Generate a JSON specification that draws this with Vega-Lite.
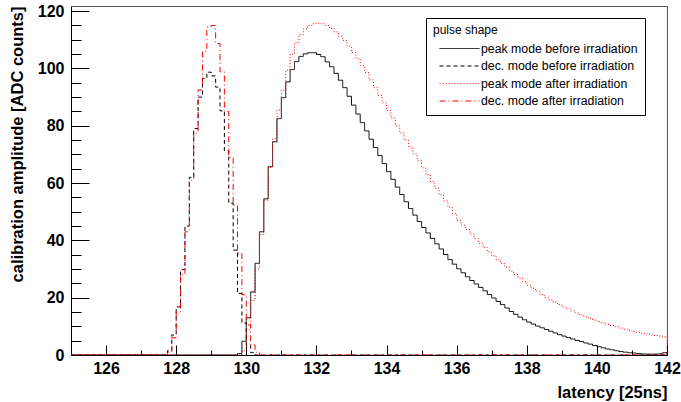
{
"$schema":"https://vega.github.io/schema/vega-lite/v6.json",
"width":596,"height":349,
"autosize":{"type":"none"},
"padding":{"left":71,"top":6,"right":14,"bottom":47},
"background":"white",
"config":{"view":{"stroke":"#555","strokeWidth":1},"font":"Liberation Sans"},
"data":{"values":[
{"x":125,"pb":0,"db":0,"pa":0,"da":0},
{"x":127.75,"pb":0,"db":1.5,"pa":0,"da":1},
{"x":127.875,"pb":0,"db":7,"pa":0,"da":6},
{"x":128,"pb":0,"db":16.8,"pa":0,"da":15},
{"x":128.125,"pb":0,"db":29.8,"pa":0,"da":28},
{"x":128.25,"pb":0,"db":45,"pa":0,"da":43},
{"x":128.375,"pb":0,"db":62,"pa":0,"da":61},
{"x":128.5,"pb":0,"db":79,"pa":0,"da":77.5},
{"x":128.625,"pb":0,"db":90,"pa":0,"da":92.5},
{"x":128.75,"pb":0,"db":96.5,"pa":0,"da":106},
{"x":128.875,"pb":0,"db":98.7,"pa":0,"da":114.5},
{"x":129,"pb":0,"db":97.4,"pa":0,"da":115},
{"x":129.125,"pb":0,"db":93.5,"pa":0,"da":108.7},
{"x":129.25,"pb":0,"db":85.2,"pa":0,"da":98.8},
{"x":129.375,"pb":0,"db":71.3,"pa":0,"da":85},
{"x":129.5,"pb":0,"db":53,"pa":0,"da":69},
{"x":129.625,"pb":0,"db":36.6,"pa":0,"da":52.3},
{"x":129.75,"pb":0.5,"db":21.5,"pa":0,"da":35.6},
{"x":129.875,"pb":4.8,"db":11.2,"pa":1.5,"da":21},
{"x":130,"pb":13,"db":3.4,"pa":9,"da":10.5},
{"x":130.125,"pb":22,"db":0.8,"pa":19,"da":3.5},
{"x":130.25,"pb":32,"db":0,"pa":30,"da":1},
{"x":130.375,"pb":43,"db":0,"pa":42,"da":0},
{"x":130.5,"pb":54.5,"db":0,"pa":54,"da":0},
{"x":130.625,"pb":65.7,"db":0,"pa":65.5,"da":0},
{"x":130.75,"pb":74.4,"db":0,"pa":75.5,"da":0},
{"x":130.875,"pb":82.5,"db":0,"pa":85.5,"da":0},
{"x":131,"pb":89.8,"db":0,"pa":92.4,"da":0},
{"x":131.125,"pb":95.3,"db":0,"pa":99.4,"da":0},
{"x":131.25,"pb":99.6,"db":0,"pa":105,"da":0},
{"x":131.375,"pb":102.4,"db":0,"pa":109,"da":0},
{"x":131.5,"pb":104.2,"db":0,"pa":111.8,"da":0},
{"x":131.625,"pb":105.1,"db":0,"pa":113.8,"da":0},
{"x":131.75,"pb":105.5,"db":0,"pa":115,"da":0},
{"x":131.875,"pb":105.5,"db":0,"pa":115.6,"da":0},
{"x":132,"pb":104.9,"db":0,"pa":115.8,"da":0},
{"x":132.125,"pb":104.1,"db":0,"pa":115.6,"da":0},
{"x":132.25,"pb":102.3,"db":0,"pa":115,"da":0},
{"x":132.375,"pb":100.6,"db":0,"pa":114,"da":0},
{"x":132.5,"pb":98.3,"db":0,"pa":112.8,"da":0},
{"x":132.625,"pb":95.9,"db":0,"pa":111.3,"da":0},
{"x":132.75,"pb":93.3,"db":0,"pa":109.8,"da":0},
{"x":132.875,"pb":90.3,"db":0,"pa":107.8,"da":0},
{"x":133,"pb":87.2,"db":0,"pa":105.6,"da":0},
{"x":133.125,"pb":84.1,"db":0,"pa":103.4,"da":0},
{"x":133.25,"pb":81.1,"db":0,"pa":101,"da":0},
{"x":133.375,"pb":78.2,"db":0,"pa":98.6,"da":0},
{"x":133.5,"pb":75.3,"db":0,"pa":96,"da":0},
{"x":133.625,"pb":72.4,"db":0,"pa":93.3,"da":0},
{"x":133.75,"pb":69.6,"db":0,"pa":90.6,"da":0},
{"x":133.875,"pb":66.8,"db":0,"pa":88,"da":0},
{"x":134,"pb":64,"db":0,"pa":85.3,"da":0},
{"x":134.125,"pb":61.3,"db":0,"pa":82.7,"da":0},
{"x":134.25,"pb":58.6,"db":0,"pa":80,"da":0},
{"x":134.375,"pb":56,"db":0,"pa":77.5,"da":0},
{"x":134.5,"pb":53.5,"db":0,"pa":75,"da":0},
{"x":134.625,"pb":51.1,"db":0,"pa":72.6,"da":0},
{"x":134.75,"pb":48.8,"db":0,"pa":70.2,"da":0},
{"x":134.875,"pb":46.6,"db":0,"pa":67.8,"da":0},
{"x":135,"pb":44.5,"db":0,"pa":65.3,"da":0},
{"x":135.125,"pb":42.6,"db":0,"pa":62.9,"da":0},
{"x":135.25,"pb":40.7,"db":0,"pa":60.5,"da":0},
{"x":135.375,"pb":38.8,"db":0,"pa":58.2,"da":0},
{"x":135.5,"pb":37,"db":0,"pa":55.9,"da":0},
{"x":135.625,"pb":35.1,"db":0,"pa":53.8,"da":0},
{"x":135.75,"pb":33.3,"db":0,"pa":51.6,"da":0},
{"x":135.875,"pb":31.7,"db":0,"pa":49.4,"da":0},
{"x":136,"pb":30.1,"db":0,"pa":47,"da":0},
{"x":136.125,"pb":28.7,"db":0,"pa":45.3,"da":0},
{"x":136.25,"pb":27.3,"db":0,"pa":43.8,"da":0},
{"x":136.375,"pb":26,"db":0,"pa":42.2,"da":0},
{"x":136.5,"pb":24.8,"db":0,"pa":40.6,"da":0},
{"x":136.625,"pb":23.6,"db":0,"pa":39,"da":0},
{"x":136.75,"pb":22.4,"db":0,"pa":37.5,"da":0},
{"x":136.875,"pb":21.1,"db":0,"pa":36,"da":0},
{"x":137,"pb":19.9,"db":0,"pa":34.6,"da":0},
{"x":137.125,"pb":18.7,"db":0,"pa":33.2,"da":0},
{"x":137.25,"pb":17.6,"db":0,"pa":31.9,"da":0},
{"x":137.375,"pb":16.4,"db":0,"pa":30.6,"da":0},
{"x":137.5,"pb":15.2,"db":0,"pa":29.3,"da":0},
{"x":137.625,"pb":14.2,"db":0,"pa":28.1,"da":0},
{"x":137.75,"pb":13.2,"db":0,"pa":26.9,"da":0},
{"x":137.875,"pb":12.3,"db":0,"pa":25.6,"da":0},
{"x":138,"pb":11.5,"db":0,"pa":24.3,"da":0},
{"x":138.125,"pb":10.8,"db":0,"pa":23.3,"da":0},
{"x":138.25,"pb":10.1,"db":0,"pa":22.3,"da":0},
{"x":138.375,"pb":9.5,"db":0,"pa":21.1,"da":0},
{"x":138.5,"pb":8.9,"db":0,"pa":20,"da":0},
{"x":138.625,"pb":8.3,"db":0,"pa":19.2,"da":0},
{"x":138.75,"pb":7.7,"db":0,"pa":18.4,"da":0},
{"x":138.875,"pb":7.1,"db":0,"pa":17.6,"da":0},
{"x":139,"pb":6.6,"db":0,"pa":16.8,"da":0},
{"x":139.125,"pb":6.1,"db":0,"pa":16.1,"da":0},
{"x":139.25,"pb":5.6,"db":0,"pa":15.4,"da":0},
{"x":139.375,"pb":5.1,"db":0,"pa":14.7,"da":0},
{"x":139.5,"pb":4.7,"db":0,"pa":14,"da":0},
{"x":139.625,"pb":4.2,"db":0,"pa":13.4,"da":0},
{"x":139.75,"pb":3.8,"db":0,"pa":12.8,"da":0},
{"x":139.875,"pb":3.3,"db":0,"pa":12.2,"da":0},
{"x":140,"pb":2.9,"db":0,"pa":11.7,"da":0},
{"x":140.125,"pb":2.5,"db":0,"pa":11.2,"da":0},
{"x":140.25,"pb":2.1,"db":0,"pa":10.7,"da":0},
{"x":140.375,"pb":1.8,"db":0,"pa":10.3,"da":0},
{"x":140.5,"pb":1.5,"db":0,"pa":9.9,"da":0},
{"x":140.625,"pb":1.2,"db":0,"pa":9.4,"da":0},
{"x":140.75,"pb":1,"db":0,"pa":9,"da":0},
{"x":140.875,"pb":0.8,"db":0,"pa":8.6,"da":0},
{"x":141,"pb":0.7,"db":0,"pa":8.2,"da":0},
{"x":141.125,"pb":0.5,"db":0,"pa":7.9,"da":0},
{"x":141.25,"pb":0.4,"db":0,"pa":7.6,"da":0},
{"x":141.375,"pb":0.3,"db":0,"pa":7.3,"da":0},
{"x":141.5,"pb":0.3,"db":0,"pa":7,"da":0},
{"x":141.625,"pb":0.3,"db":0,"pa":6.8,"da":0},
{"x":141.75,"pb":0.4,"db":0,"pa":6.6,"da":0},
{"x":141.875,"pb":0.8,"db":0,"pa":6.4,"da":0},
{"x":142,"pb":0,"db":0,"pa":0,"da":0}
]},
"transform":[{"fold":["pb","db","pa","da"],"as":["series","value"]}],
"mark":{"type":"line","interpolate":"step-after","strokeWidth":1,"clip":true},
"encoding":{
"x":{"field":"x","type":"quantitative","scale":{"domain":[125,142],"nice":false,"zero":false},
"axis":{"title":"latency [25ns]","titleAnchor":"end","titleFontSize":16.5,"titleFontWeight":"bold","titleColor":"black","titlePadding":3,
"values":[125,125.5,126,126.5,127,127.5,128,128.5,129,129.5,130,130.5,131,131.5,132,132.5,133,133.5,134,134.5,135,135.5,136,136.5,137,137.5,138,138.5,139,139.5,140,140.5,141,141.5,142],
"format":"d","labelExpr":"datum.value % 2 === 0 ? datum.label : ''","labelFontSize":16,"labelFontWeight":"bold","labelColor":"black","labelPadding":15,"labelFlush":false,"labelOverlap":false,"grid":false,"domainColor":"black","tickColor":"black",
"tickSize":{"condition":{"test":"datum.value % 2 === 0","value":-10},"value":-5}}},
"y":{"field":"value","type":"quantitative","scale":{"domain":[0,121.8],"nice":false},
"axis":{"title":"calibration amplitude [ADC counts]","titleAnchor":"end","titleFontSize":16.5,"titleFontWeight":"bold","titleColor":"black","titlePadding":12,
"values":[0,5,10,15,20,25,30,35,40,45,50,55,60,65,70,75,80,85,90,95,100,105,110,115,120],
"format":"d","labelExpr":"datum.value % 20 === 0 ? datum.label : ''","labelFontSize":16,"labelFontWeight":"bold","labelColor":"black","labelPadding":25,"labelOverlap":false,"grid":false,"domainColor":"black","tickColor":"black",
"tickSize":{"condition":{"test":"datum.value % 20 === 0","value":-18},"value":-10}}},
"color":{"field":"series","type":"nominal","scale":{"domain":["pb","db","pa","da"],"range":["black","black","red","red"]},
"legend":{"orient":"none","legendX":355,"legendY":12,"title":"pulse shape","titleFontSize":12,"titleFontWeight":"normal","titleColor":"black","labelFontSize":12.3,"labelColor":"black","fillColor":"white","strokeColor":"black","padding":7,"symbolType":"M0,0H6.67","symbolSize":144,"symbolStrokeWidth":1,"labelOffset":35,"rowPadding":4.5,"titlePadding":5,
"labelExpr":"datum.value == 'pb' ? 'peak mode before irradiation' : datum.value == 'db' ? 'dec. mode before irradiation' : datum.value == 'pa' ? 'peak mode after irradiation' : 'dec. mode after irradiation'"}},
"strokeDash":{"field":"series","type":"nominal","scale":{"domain":["pb","db","pa","da"],"range":[[1,0],[4,3],[1,2],[6,3,1,3]]},
"legend":{"orient":"none","legendX":355,"legendY":12,"title":"pulse shape","titleFontSize":12,"titleFontWeight":"normal","titleColor":"black","labelFontSize":12.3,"labelColor":"black","fillColor":"white","strokeColor":"black","padding":7,"symbolType":"M0,0H6.67","symbolSize":144,"symbolStrokeWidth":1,"labelOffset":35,"rowPadding":4.5,"titlePadding":5,
"labelExpr":"datum.value == 'pb' ? 'peak mode before irradiation' : datum.value == 'db' ? 'dec. mode before irradiation' : datum.value == 'pa' ? 'peak mode after irradiation' : 'dec. mode after irradiation'"}}
}
}
